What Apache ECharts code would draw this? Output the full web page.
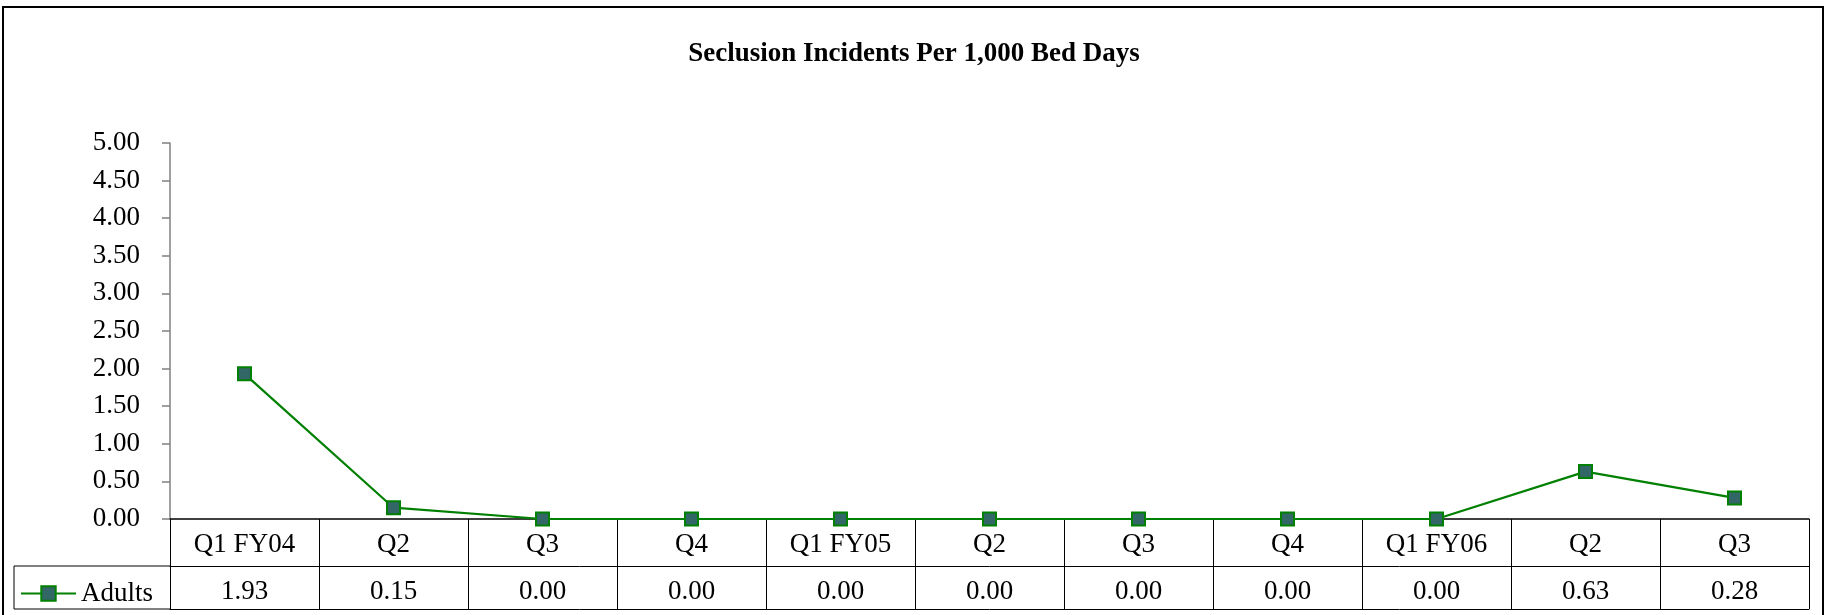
<!DOCTYPE html>
<html>
<head>
<meta charset="utf-8">
<script src="https://cdn.jsdelivr.net/npm/echarts@6/dist/echarts.min.js"></script>
<style>
html,body{margin:0;padding:0;background:#fff;}
#chart{width:1828px;height:615px;}
</style>
</head>
<body>
<div id="chart"></div>
<script>
// ---- data ----
const titleText = 'Seclusion Incidents Per 1,000 Bed Days';
const categories = ['Q1 FY04','Q2','Q3','Q4','Q1 FY05','Q2','Q3','Q4','Q1 FY06','Q2','Q3'];
const seriesName = 'Adults';
const adults = [1.93, 0.15, 0.00, 0.00, 0.00, 0.00, 0.00, 0.00, 0.00, 0.63, 0.28];
const yTicks = [0, 0.5, 1, 1.5, 2, 2.5, 3, 3.5, 4, 4.5, 5];

// ---- layout ----
const W = 1828, H = 615;
const gridLeft = 170, gridRight = 19, gridTop = 143, gridBottom = 96;
const axisY = H - gridBottom;     // 519
const rowH1 = 47, rowH2 = 43;
const font = "'Liberation Serif','Times New Roman',serif";
const fs = 27;

const chart = echarts.init(document.getElementById('chart'), null, {renderer: 'canvas'});
const option = {
  animation: false,
  backgroundColor: '#ffffff',
  title: {
    text: titleText,
    left: 'center',
    top: 36,
    textStyle: {fontFamily: font, fontSize: 27, fontWeight: 'bold', color: '#000'}
  },
  legend: {
    data: [seriesName],
    left: 15,
    top: axisY + rowH1 + 9,
    itemWidth: 55,
    itemHeight: 18,
    textStyle: {fontFamily: font, fontSize: fs, color: '#000'}
  },
  grid: {left: gridLeft, right: gridRight, top: gridTop, bottom: gridBottom, containLabel: false},
  xAxis: [
    {
      type: 'category', position: 'bottom', data: categories, boundaryGap: true,
      axisLine: {show: true, onZero: false, lineStyle: {color: '#000', width: 1.5}},
      axisTick: {show: true, interval: 0, length: rowH1 + rowH2, lineStyle: {color: '#000', width: 1}},
      axisLabel: {interval: 0, margin: 12, fontFamily: font, fontSize: fs, color: '#000'},
      splitLine: {show: false}
    },
    {
      type: 'category', position: 'bottom', offset: rowH1, data: categories, boundaryGap: true,
      axisLine: {show: true, onZero: false, lineStyle: {color: '#000', width: 1}},
      axisTick: {show: false},
      axisLabel: {interval: 0, margin: 12, fontFamily: font, fontSize: fs, color: '#000',
        formatter: (v, i) => adults[i].toFixed(2)},
      splitLine: {show: false}
    },
    {
      type: 'category', position: 'bottom', offset: rowH1 + rowH2, data: categories, boundaryGap: true,
      axisLine: {show: true, onZero: false, lineStyle: {color: '#000', width: 1}},
      axisTick: {show: false},
      axisLabel: {show: false},
      splitLine: {show: false}
    }
  ],
  yAxis: {
    type: 'value', min: yTicks[0], max: yTicks[yTicks.length - 1], interval: 0.5,
    axisLine: {show: true, lineStyle: {color: '#808080', width: 1.5}},
    axisTick: {show: true, length: 8, lineStyle: {color: '#808080', width: 1.5}},
    axisLabel: {margin: 30, fontFamily: font, fontSize: fs, color: '#000',
      formatter: v => v.toFixed(2)},
    splitLine: {show: false}
  },
  series: [{
    name: seriesName,
    type: 'line',
    data: adults,
    xAxisIndex: 0,
    symbol: 'rect',
    symbolSize: 13,
    showAllSymbol: true,
    clip: false,
    lineStyle: {color: '#008000', width: 2.2},
    itemStyle: {color: '#336666', borderColor: '#008000', borderWidth: 2},
    z: 5
  }],
  graphic: [
    {
      type: 'rect', silent: true, z: 100,
      shape: {x: 3, y: 7, width: 1820, height: 620},
      style: {fill: 'none', stroke: '#000', lineWidth: 2}
    },
    {
      type: 'polyline', silent: true, z: 100,
      shape: {points: [[gridLeft, axisY + rowH1], [14, axisY + rowH1], [14, axisY + rowH1 + rowH2], [gridLeft, axisY + rowH1 + rowH2]]},
      style: {fill: 'none', stroke: '#000', lineWidth: 1}
    }
  ]
};
chart.setOption(option);
</script>
</body>
</html>
